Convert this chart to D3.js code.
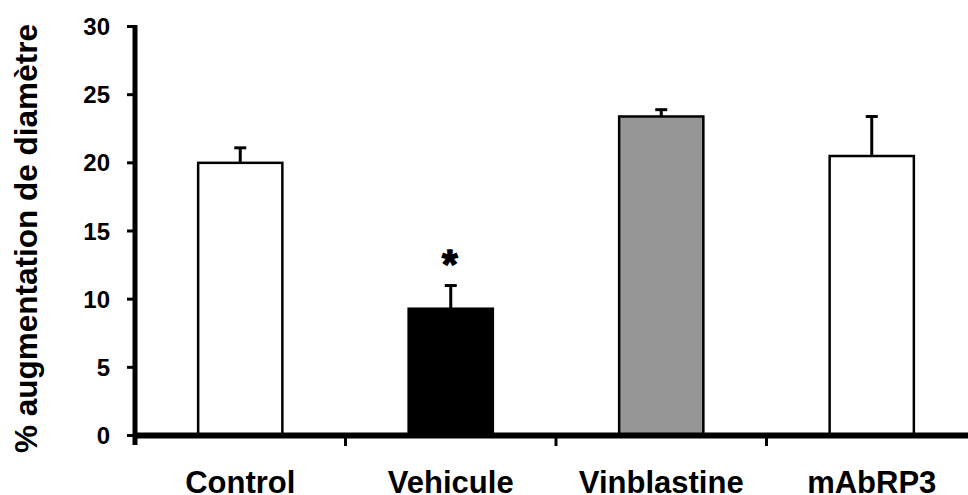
<!DOCTYPE html>
<html>
<head>
<meta charset="utf-8">
<script src="https://cdn.jsdelivr.net/npm/d3@7"></script>
<style>
  html, body { margin: 0; padding: 0; background: #fff; }
  svg { display: block; }
  text { font-family: "Liberation Sans", Arial, sans-serif; font-weight: bold; fill: #000; }
</style>
</head>
<body>
<svg id="chart" width="968" height="495"></svg>
<script>
// Groups, mean % increase and upper error (SEM)
const categories = ["Control", "Vehicule", "Vinblastine", "mAbRP3"];
const values = [20.0, 9.3, 23.4, 20.5];
const errors = [1.1, 1.7, 0.5, 2.9];
const fills = ["#ffffff", "#000000", "#969696", "#ffffff"];
const significant = [false, true, false, false];
const yTicks = [0, 5, 10, 15, 20, 25, 30];
const yTitle = "% augmentation de diamètre";

const W = 968, H = 495;
const svg = d3.select("#chart");

const x = d3.scaleBand().domain(categories).range([135, 977]).paddingInner(0).paddingOuter(0);
const y = d3.scaleLinear().domain([0, 30]).range([435.5, 26.5]);
const barW = x.bandwidth() * 0.4;

// Bars
svg.append("g").selectAll("rect")
  .data(categories)
  .join("rect")
  .attr("x", d => x(d) + (x.bandwidth() - barW) / 2)
  .attr("y", (d, i) => y(values[i]))
  .attr("width", barW)
  .attr("height", (d, i) => y(0) - y(values[i]))
  .attr("fill", (d, i) => fills[i])
  .attr("stroke", "#000")
  .attr("stroke-width", 2.5);

// Upper error bars
const eb = svg.append("g").attr("stroke", "#000").attr("stroke-width", 3);
categories.forEach((c, i) => {
  const cx = x(c) + x.bandwidth() / 2;
  const top = y(values[i] + errors[i]);
  eb.append("line").attr("x1", cx).attr("x2", cx)
    .attr("y1", y(values[i])).attr("y2", top);
  eb.append("line").attr("x1", cx - 6).attr("x2", cx + 6)
    .attr("y1", top).attr("y2", top);
});

// Significance mark above the error bar
categories.forEach((c, i) => {
  if (!significant[i]) return;
  svg.append("text")
    .attr("x", x(c) + x.bandwidth() / 2 - 1)
    .attr("y", y(values[i] + errors[i]) - 8)
    .attr("text-anchor", "middle")
    .attr("stroke", "#000")
    .attr("stroke-width", 1.5)
    .style("font-size", "40px")
    .text("*");
});

// Y axis
const yAxis = svg.append("g");
yAxis.append("line").attr("x1", 135).attr("x2", 135)
  .attr("y1", y(30) - 1.5).attr("y2", 445)
  .attr("stroke", "#000").attr("stroke-width", 5);
yAxis.selectAll("line.tick").data(yTicks).join("line")
  .attr("class", "tick")
  .attr("x1", 127).attr("x2", 135)
  .attr("y1", d => y(d)).attr("y2", d => y(d))
  .attr("stroke", "#000").attr("stroke-width", 3);
yAxis.selectAll("text").data(yTicks).join("text")
  .attr("x", 110).attr("y", d => y(d))
  .attr("dy", "0.36em")
  .attr("text-anchor", "end")
  .style("font-size", "24px")
  .text(d => d);

// X axis
const xAxis = svg.append("g");
xAxis.append("line").attr("x1", 133).attr("x2", W)
  .attr("y1", 435.5).attr("y2", 435.5)
  .attr("stroke", "#000").attr("stroke-width", 6);
xAxis.selectAll("line.tick").data(categories.slice(1)).join("line")
  .attr("class", "tick")
  .attr("x1", d => x(d)).attr("x2", d => x(d))
  .attr("y1", 435).attr("y2", 446)
  .attr("stroke", "#000").attr("stroke-width", 3);
xAxis.selectAll("text").data(categories).join("text")
  .attr("x", d => x(d) + x.bandwidth() / 2)
  .attr("y", 493)
  .attr("text-anchor", "middle")
  .style("font-size", "31px")
  .text(d => d);

// Y axis title
svg.append("text")
  .attr("transform", "translate(37,238.5) rotate(-90)")
  .attr("text-anchor", "middle")
  .style("font-size", "31.5px")
  .text(yTitle);
</script>
</body>
</html>
